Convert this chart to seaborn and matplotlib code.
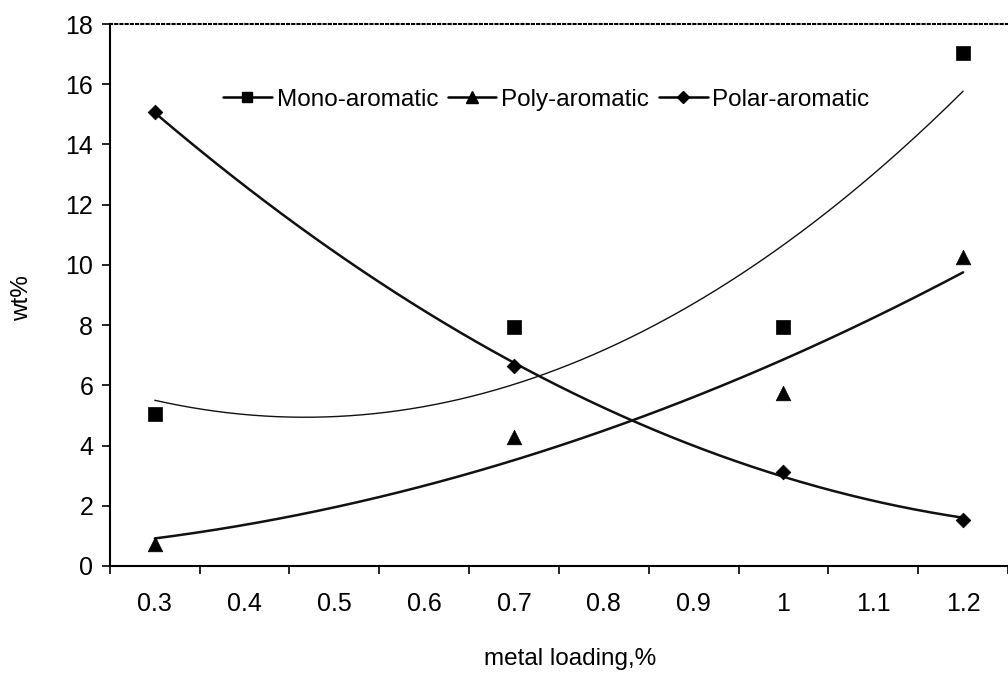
import numpy as np
import pandas as pd
import matplotlib
matplotlib.use("Agg")
import matplotlib.pyplot as plt
from matplotlib.lines import Line2D
from matplotlib.ticker import MultipleLocator, FixedLocator
import seaborn as sns

# Measured aromatic content versus metal loading
loading = [0.3, 0.7, 1.0, 1.2]
mono = [5.05, 7.94, 7.94, 17.04]
poly = [0.73, 4.29, 5.75, 10.27]
polar = [15.08, 6.64, 3.12, 1.53]
tick_labels = ["0.3", "0.4", "0.5", "0.6", "0.7", "0.8", "0.9", "1", "1.1", "1.2"]

sns.set_theme(style="white")
plt.rcParams["font.family"] = ["Liberation Sans", "DejaVu Sans"]
plt.rcParams["text.color"] = "black"
plt.rcParams["axes.labelcolor"] = "black"
plt.rcParams["xtick.color"] = "black"
plt.rcParams["ytick.color"] = "black"

fig = plt.figure(figsize=(10.08, 6.75), dpi=100)
ax = fig.add_axes([0.109, 0.1615, 0.891, 0.8029])

series = [
    ("Mono-aromatic", mono, "s", 1.0, 9.5),
    ("Poly-aromatic", poly, "^", 1.8, 10.5),
    ("Polar-aromatic", polar, "D", 1.8, 7.5),
]

xs = np.linspace(min(loading), max(loading), 200)
handles = []
for name, vals, marker, lw, ms in series:
    # second-order polynomial trend line through the measured points
    coef = np.polyfit(loading, vals, 2)
    trend = pd.DataFrame({"x": xs, "y": np.polyval(coef, xs)})
    sns.lineplot(data=trend, x="x", y="y", ax=ax, color="#111111", lw=lw)
    pts = pd.DataFrame({"x": loading, "y": vals})
    sns.scatterplot(data=pts, x="x", y="y", ax=ax, marker=marker, s=ms ** 2,
                    color="black", edgecolor="black", linewidth=0.5, zorder=5)
    handles.append(Line2D([0], [0], color="black", lw=1.8, marker=marker,
                          markersize=ms * 0.8, label=name))

ax.set_xlim(0.25, 1.25)
ax.set_ylim(0, 18)
ax.xaxis.set_major_locator(FixedLocator([0.3 + 0.1 * i for i in range(10)]))
ax.set_xticklabels(tick_labels)
ax.xaxis.set_minor_locator(FixedLocator([0.25 + 0.1 * i for i in range(11)]))
ax.yaxis.set_major_locator(MultipleLocator(2))

ax.tick_params(axis="x", which="major", length=0, pad=19, labelsize=18,
               labelcolor="black")
ax.tick_params(axis="x", which="minor", length=6, width=1.2, direction="out",
               color="black", bottom=True)
ax.tick_params(axis="y", which="major", length=6, width=1.2, direction="out",
               color="black", left=True, labelsize=18, pad=6,
               labelcolor="black")

for side in ("left", "bottom"):
    ax.spines[side].set_color("black")
    ax.spines[side].set_linewidth(1.5)
ax.spines["right"].set_visible(False)
ax.spines["top"].set_linestyle((0, (1, 1.5)))
ax.spines["top"].set_color("black")
ax.spines["top"].set_linewidth(1.5)

ax.set_xlabel("metal loading,%", fontsize=17.5, color="black")
ax.set_ylabel("wt%", fontsize=17.5, color="black")
ax.xaxis.set_label_coords(0.513, -0.151)
ax.yaxis.set_label_coords(-0.086, 0.494)

leg = ax.legend(handles=handles, loc="center", bbox_to_anchor=(0.486, 0.86),
                ncol=3, frameon=False, fontsize=17.5, handlelength=2.0,
                handletextpad=0.2, columnspacing=0.4)
for t in leg.get_texts():
    t.set_color("black")

fig.savefig("out.png", dpi=100, facecolor="white")
